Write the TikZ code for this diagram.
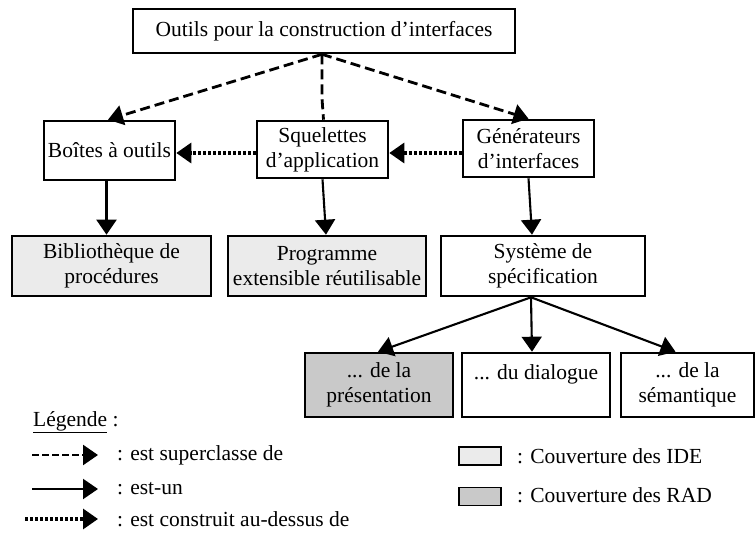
\documentclass[tikz,border=0pt]{standalone}
\usepackage{fontspec}
\setmainfont{Liberation Serif}
\usetikzlibrary{arrows.meta}
\definecolor{ideGray}{gray}{0.92}
\definecolor{radGray}{gray}{0.79}
\begin{document}
\begin{tikzpicture}[x=1pt,y=-1pt,
  font=\fontsize{21.5}{25}\selectfont,
  box/.style 2 args={draw, line width=2.6pt, align=center, inner sep=0pt,
    minimum width=#1, minimum height=#2},
  tip/.style={-{Triangle[length=15pt,width=20pt]}},
  superof/.style={tip, line width=2.8pt, dash pattern=on 10pt off 5pt},
  isa/.style={tip, line width=2.1pt},
  builton/.style={tip, line width=3.2pt, dash pattern=on 3pt off 2pt},
  swatch/.style={draw, line width=1.6pt, minimum width=42pt, minimum height=18pt, inner sep=0pt},
  legtext/.style={anchor=west, inner sep=0pt}
]
\useasboundingbox (0,0) rectangle (755,535);

% class hierarchy
\node[box={382pt}{44pt}] (top) at (324,31) {Outils pour la construction d'interfaces};
\node[box={131pt}{59pt}] (tools) at (109.5,150.5) {Boîtes à outils};
\node[box={131pt}{57pt}] (skel) at (322.5,149.5) {Squelettes\\d'application};
\node[box={131pt}{57pt}] (gen) at (528.5,148.5) {Générateurs\\d'interfaces};

\node[box={199pt}{60pt}, fill=ideGray] (lib) at (111.5,266) {Bibliothèque de\\procédures};
\node[box={198pt}{60pt}, fill=ideGray] (prog) at (327,266) {Programme\\extensible réutilisable};
\node[box={204pt}{60pt}] (spec) at (543,266) {Système de\\spécification};

\node[box={148pt}{64pt}, fill=radGray] (pres) at (379,385) {... de la\\présentation};
\node[box={148pt}{64pt}] (dial) at (536,385) {... du dialogue\\\mbox{}};
\node[box={133pt}{64pt}] (sem) at (687.5,385) {... de la\\sémantique};

% superclass links
\draw[superof] ([xshift=-2pt]top.south) -- ([xshift=-1.5pt]tools.north);
\draw[line width=2.8pt, dash pattern=on 10pt off 5pt]
  ([xshift=-2pt]top.south) -- ++(0,44) -- ([xshift=1pt]skel.north);
\draw[superof] ([xshift=-2pt]top.south) -- (gen.north);

% built-on links
\coordinate (rowA) at (0,153);
\draw[builton] (skel.west |- rowA) -- (tools.east |- rowA);
\draw[builton] (gen.west |- rowA) -- (skel.east |- rowA);

% is-a links
\draw[isa] ([xshift=-3pt]tools.south) -- ([xshift=-5pt]lib.north);
\draw[isa] (skel.south) -- ([xshift=-1pt]prog.north);
\draw[isa] (gen.south) -- ([xshift=-11pt]spec.north);
\draw[isa] ([xshift=-12pt]spec.south) -- ([xshift=-1pt]pres.north);
\draw[isa] ([xshift=-12pt]spec.south) -- ([xshift=-4pt]dial.north);
\draw[isa] ([xshift=-12pt]spec.south) -- ([xshift=-12pt]sem.north);

% legend
\node[anchor=base west, inner sep=0pt] (legend) at (33,426) {\underline{Légende} :};

\coordinate (l1a) at (32,455);  \coordinate (l1b) at (98,455);
\coordinate (l2a) at (32,489);  \coordinate (l2b) at (98,489);
\coordinate (l3a) at (25,519);  \coordinate (l3b) at (98,519);
\draw[tip, line width=2.4pt, dash pattern=on 7pt off 3pt] (l1a) -- (l1b);
\draw[isa] (l2a) -- (l2b);
\draw[builton] (l3a) -- (l3b);
\node[legtext] (t1) at (117,455) {: est superclasse de};
\node[legtext] (t2) at (117,489) {: est-un};
\node[legtext] (t3) at (117,519) {: est construit au-dessus de};

\node[swatch, fill=ideGray] (s1) at (480,456) {};
\node[swatch, fill=radGray] (s2) at (480,496.5) {};
\node[legtext] (t4) at (517,456) {: Couverture des IDE};
\node[legtext] (t5) at (517,495.5) {: Couverture des RAD};
\end{tikzpicture}
\end{document}
